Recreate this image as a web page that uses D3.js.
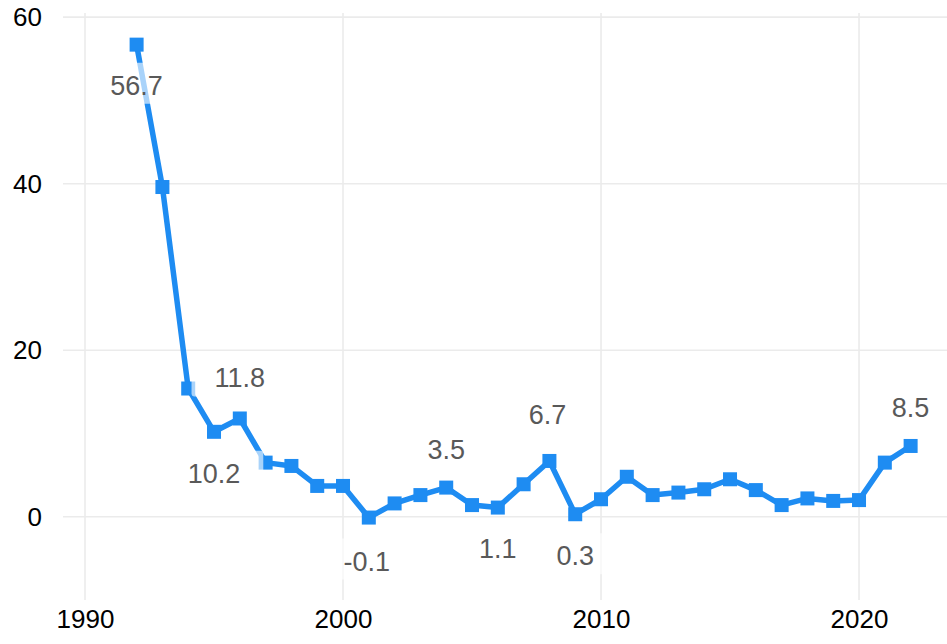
<!DOCTYPE html>
<html>
<head>
<meta charset="utf-8">
<script src="https://cdn.jsdelivr.net/npm/d3@7"></script>
<style>
  html, body { margin: 0; padding: 0; background: #fff; }
  svg { display: block; }
</style>
</head>
<body>
<svg id="chart" width="947" height="644"></svg>
<script>
// Annual series, 1992–2022
const years = [1992, 1993, 1994, 1995, 1996, 1997, 1998, 1999, 2000, 2001,
               2002, 2003, 2004, 2005, 2006, 2007, 2008, 2009, 2010, 2011,
               2012, 2013, 2014, 2015, 2016, 2017, 2018, 2019, 2020, 2021, 2022];
const values = [56.7, 39.6, 15.4, 10.2, 11.8, 6.5, 6.1, 3.7, 3.7, -0.1,
                1.6, 2.6, 3.5, 1.4, 1.1, 3.9, 6.7, 0.3, 2.1, 4.8,
                2.6, 2.9, 3.3, 4.5, 3.2, 1.4, 2.2, 1.9, 2.0, 6.5, 8.5];

// Years whose value is printed next to the point
const labelledYears = [1992, 1995, 1996, 2001, 2004, 2006, 2008, 2009, 2022];

// Axis ticks
const xTicks = [1990, 2000, 2010, 2020];
const yTicks = [0, 20, 40, 60];

// Pixel nudges for the value labels (dx, dy from the point to the text baseline)
const labelNudge = {
  1992: [0, 50], 1995: [0, 51], 1996: [0, -31], 2001: [-2, 53],
  2004: [0, -29], 2006: [0, 50], 2008: [-2, -37], 2009: [0, 51], 2022: [0, -29]
};

const blue = "#1E8CF2";
const svg = d3.select("#chart");

const x = d3.scaleLinear().domain([1989.147, 2023.41]).range([63, 947]);
const y = d3.scaleLinear().domain([-10, 60.5]).range([600, 13]);

// Gridlines
const grid = svg.append("g");
grid.selectAll("line.h").data(yTicks).join("line")
  .attr("x1", 63).attr("x2", 947)
  .attr("y1", d => y(d)).attr("y2", d => y(d))
  .attr("stroke", "#ebebeb").attr("stroke-width", 1.6);
grid.selectAll("line.v").data(xTicks).join("line")
  .attr("y1", 13).attr("y2", 600)
  .attr("x1", d => x(d)).attr("x2", d => x(d))
  .attr("stroke", "#ebebeb").attr("stroke-width", 1.6);

// Axes (labels only)
const yAxis = svg.append("g").attr("transform", "translate(63,0)")
  .call(d3.axisLeft(y).tickValues(yTicks).tickSize(0).tickPadding(21).tickFormat(d3.format("d")));
const xAxis = svg.append("g").attr("transform", "translate(0,600)")
  .call(d3.axisBottom(x).tickValues(xTicks).tickSize(0).tickPadding(10).tickFormat(d3.format("d")));
[yAxis, xAxis].forEach(a => {
  a.select(".domain").remove();
  a.selectAll("text")
    .attr("font-family", "'Liberation Sans', Arial, sans-serif")
    .attr("font-size", 26).attr("fill", "#000");
});

const data = years.map((yr, i) => ({ year: yr, value: values[i] }));

// Line
svg.append("path").datum(data)
  .attr("fill", "none").attr("stroke", blue)
  .attr("stroke-width", 5.5).attr("stroke-linejoin", "round")
  .attr("d", d3.line().x(d => x(d.year)).y(d => y(d.value)));

// Square markers
const s = 14;
svg.append("g").selectAll("rect").data(data).join("rect")
  .attr("x", d => x(d.year) - s / 2).attr("y", d => y(d.value) - s / 2)
  .attr("width", s).attr("height", s).attr("fill", blue);

// Value labels with translucent white boxes
const labels = svg.append("g");
data.filter(d => labelledYears.includes(d.year)).forEach(d => {
  const [dx, dy] = labelNudge[d.year];
  const tx = x(d.year) + dx, ty = y(d.value) + dy;
  const g = labels.append("g");
  const t = g.append("text")
    .attr("x", tx).attr("y", ty)
    .attr("text-anchor", "middle")
    .attr("font-family", "'Liberation Sans', Arial, sans-serif")
    .attr("font-size", 27).attr("fill", "#595959")
    .text(d.value.toFixed(1));
  const w = t.node().getComputedTextLength();
  g.insert("rect", "text")
    .attr("x", tx - w / 2 - 23).attr("y", ty - 20 - 12)
    .attr("width", w + 46).attr("height", 20 + 12 + 9)
    .attr("rx", 3)
    .attr("fill", "#fff").attr("fill-opacity", 0.62);
});
</script>
</body>
</html>
